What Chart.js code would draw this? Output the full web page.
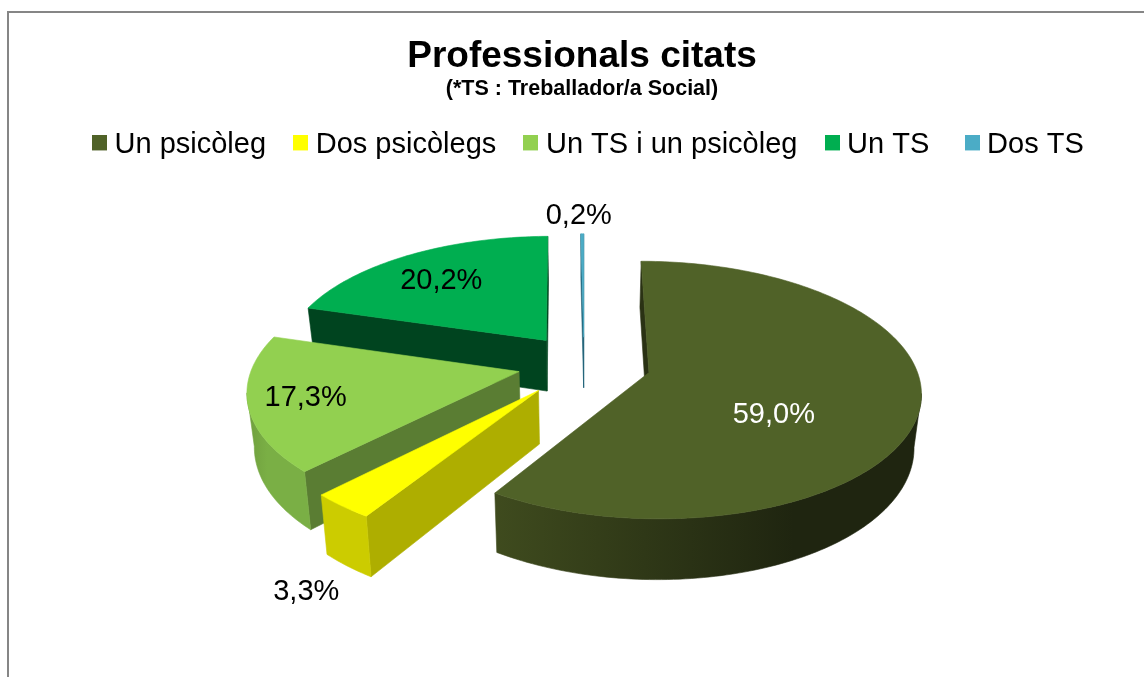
<!DOCTYPE html>
<html>
<head>
<meta charset="utf-8">
<script src="https://cdn.jsdelivr.net/npm/chart.js@4"></script>
<style>
html,body{margin:0;padding:0;background:#fff;overflow:hidden;width:1144px;height:677px}
#frame{position:absolute;left:7px;top:11px;width:1200px;height:800px;border:2px solid #868686;box-sizing:border-box}
canvas{position:absolute;left:0;top:0}
</style>
</head>
<body>
<div id="frame"></div>
<canvas id="c" width="1144" height="677"></canvas>
<script>
const categories = ['Un psicòleg','Dos psicòlegs','Un TS i un psicòleg','Un TS','Dos TS'];
const values = [59.0,3.3,17.3,20.2,0.2];
const topColors = ['#506228','#ffff00','#92d050','#00ae50','#4bacc6'];
const wallColors = ['#2a3214','#aeae00','#5a7d33','#00441f','#1d5f75'];
const rimColors = [['#3f4b1e','#2f3817','#1f2510','#1f2510'],['#cccc00','#cccc00','#cccc00','#cccc00'],['#6f9e3e','#7aaf45','#7aaf45','#7aaf45'],['#00441f','#00441f','#00441f','#00441f'],['#1d5f75','#1d5f75','#1d5f75','#1d5f75']];
const explode = [25.2,26.8,25,24.16,22];
const labelNudge = [[-35,21],[-120,135],[-53,7],[-19,-6],[-4,-56]];
const labelColors = ['#ffffff','#000000','#000000','#000000','#000000'];
const FONT = "'Liberation Sans', Arial, sans-serif";
const VIEW = {A:266,B:124,p:0.135,h:52,conv:0.022,dx:2};

function project(el,u,v,low){
  const k = 1/(1-VIEW.p*v);
  const cx = el.x+VIEW.dx;
  let x = cx + u*VIEW.A*k;
  let y = el.y + v*VIEW.B*k;
  if(low){ x = cx + (x-cx)*(1-VIEW.conv); y += VIEW.h*k; }
  return {x,y};
}
function poly(ctx,pts,fill){
  ctx.beginPath();
  pts.forEach((p,i)=> i?ctx.lineTo(p.x,p.y):ctx.moveTo(p.x,p.y));
  ctx.closePath();
  ctx.fillStyle=fill; ctx.fill();
  ctx.strokeStyle=fill; ctx.lineWidth=0.6; ctx.stroke();
}
function sliceGeom(el,i){
  const d = explode[i]/100;
  const mid = (el.startAngle+el.endAngle)/2;
  const ou = d*Math.cos(mid), ov = d*Math.sin(mid);
  const n = Math.max(2,Math.ceil((el.endAngle-el.startAngle)/0.02));
  const rim=[];
  for(let s=0;s<=n;s++){
    const a=el.startAngle+(el.endAngle-el.startAngle)*s/n;
    rim.push([ou+Math.cos(a),ov+Math.sin(a)]);
  }
  return {mid,ou,ov,rim};
}
const pie3d = {
  id:'pie3d',
  afterLayout(chart){
    const lg=chart.legend;
    lg.left=99-34.2; lg.right=1144; lg.top-=4; lg.bottom-=4;
  },
  beforeDatasetDraw(chart){
    const ctx=chart.ctx, arcs=chart.getDatasetMeta(0).data;
    const order=arcs.map((el,i)=>({el,i,g:sliceGeom(el,i)}))
      .sort((a,b)=>Math.sin(a.g.mid)-Math.sin(b.g.mid));
    order.forEach(({el,i,g})=>{
      const T=g.rim.map(q=>project(el,q[0],q[1],false));
      const L=g.rim.map(q=>project(el,q[0],q[1],true));
      const tip=project(el,g.ou,g.ov,false), tipL=project(el,g.ou,g.ov,true);
      if(T[0].x<tip.x) poly(ctx,[tip,T[0],L[0],tipL],wallColors[i]);
      if(tip.x<T[T.length-1].x) poly(ctx,[T[T.length-1],tip,tipL,L[L.length-1]],wallColors[i]);
      const xs=T.map(p=>p.x), x0=Math.min(...xs), x1=Math.max(...xs);
      const grad=ctx.createLinearGradient(x0,0,x1+0.01,0);
      const c=rimColors[i];
      grad.addColorStop(0,c[0]);grad.addColorStop(0.35,c[1]);grad.addColorStop(0.7,c[2]);grad.addColorStop(1,c[3]);
      const up=[],down=[];
      for(let s=0;s<T.length-1;s++){
        if(T[s+1].x<T[s].x){
          if(!up.length){up.push(T[s]);down.push(L[s]);}
          up.push(T[s+1]);down.push(L[s+1]);
        }
      }
      if(up.length) poly(ctx,up.concat(down.reverse()),grad);
      poly(ctx,[tip].concat(T),el.options.backgroundColor);
    });
    return false;
  },
  afterDatasetsDraw(chart){
    const ctx=chart.ctx, arcs=chart.getDatasetMeta(0).data;
    ctx.save();
    ctx.font="29px "+FONT; ctx.textAlign='center'; ctx.textBaseline='middle';
    arcs.forEach((el,i)=>{
      const g=sliceGeom(el,i);
      const r=explode[i]/100+0.6;
      const p=project(el,r*Math.cos(g.mid),r*Math.sin(g.mid),false);
      ctx.fillStyle=labelColors[i];
      ctx.fillText(values[i].toFixed(1).replace('.',',')+'%',p.x+labelNudge[i][0],p.y+labelNudge[i][1]);
    });
    ctx.restore();
  }
};
function swatch(color){
  const s=document.createElement('canvas'); s.width=15; s.height=19;
  const x=s.getContext('2d'); x.fillStyle=color; x.fillRect(0,0,15,15);
  return s;
}
new Chart(document.getElementById('c'),{
  type:'pie',
  data:{labels:categories,datasets:[{data:values,backgroundColor:topColors,borderWidth:0,offset:explode}]},
  plugins:[pie3d],
  options:{
    responsive:false,animation:false,
    layout:{padding:{left:20,right:0,top:0,bottom:123}},
    plugins:{
      tooltip:{enabled:false},
      title:{display:true,text:'Professionals citats',color:'#000',font:{family:FONT,size:37,weight:'bold',lineHeight:1.1},padding:{top:36,bottom:0}},
      subtitle:{display:true,text:'(*TS : Treballador/a Social)',color:'#000',font:{family:FONT,size:21.5,weight:'bold',lineHeight:1},padding:{top:2,bottom:0}},
      legend:{display:true,position:'top',align:'start',labels:{
        font:{family:FONT,size:29},color:'#000',padding:34.2,usePointStyle:true,pointStyleWidth:1,boxHeight:15,
        generateLabels(chart){
          return categories.map((t,i)=>({text:t+(i===3?' ':''),fillStyle:topColors[i],strokeStyle:topColors[i],lineWidth:0,pointStyle:swatch(topColors[i]),hidden:false,index:i,fontColor:'#000'}));
        }
      }}
    }
  }
});
</script>
</body>
</html>
